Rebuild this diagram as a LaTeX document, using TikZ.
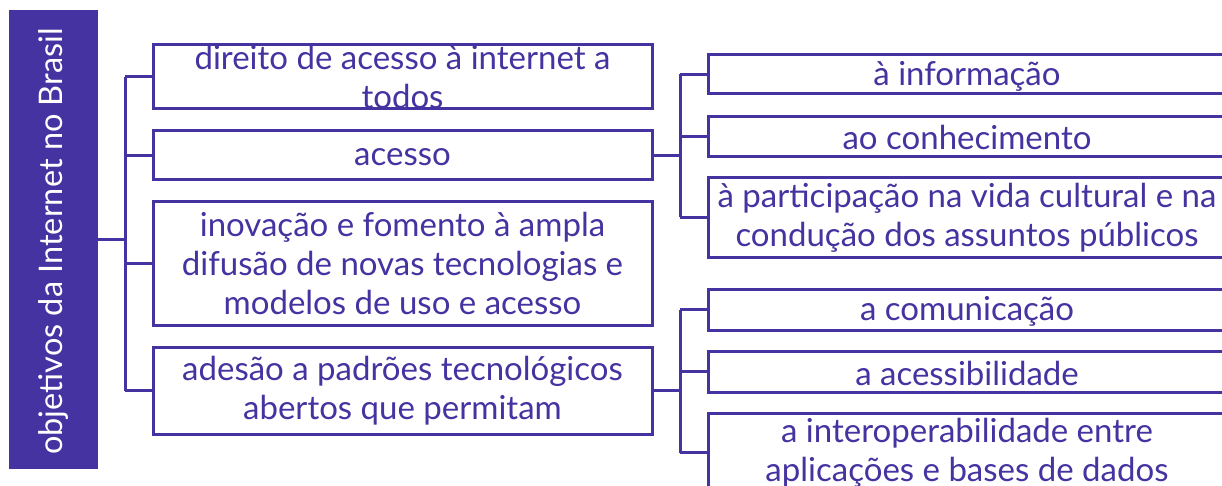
\documentclass[tikz,border=0pt]{standalone}
\usepackage{fontspec}
\setmainfont{Lato}
\definecolor{roxo}{RGB}{68,51,160}
\begin{document}
\begin{tikzpicture}[x=1pt,y=-1pt,
  box/.style={draw=roxo, line width=3pt, inner sep=0pt, outer sep=0pt, fill=white},
  mid/.style={box, minimum width=499pt},
  rgt/.style={box, minimum width=518pt},
  txt/.style={text=roxo, align=center, inner sep=0pt, font=\fontsize{33}{39}\selectfont},
  conn/.style={draw=roxo, line width=3pt}]
\useasboundingbox (0,0) rectangle (1222,486);
\clip (0,0) rectangle (1222,486);
\fill[white] (0,0) rectangle (1222,486);
% left bar
\node[fill=roxo, inner sep=0pt, minimum width=89pt, minimum height=459pt] (bar) at (53.5,239.5) {};
\node[rotate=90, text=white, inner sep=0pt, font=\fontsize{32.5}{39}\selectfont] (bartxt) at (53,241.5) {objetivos da Internet no Brasil};
% middle boxes
\node[mid, minimum height=64pt] (b1) at (402.5,77) {};
\node[mid, minimum height=49pt] (b2) at (402.5,155.5) {};
\node[mid, minimum height=123pt] (b3) at (402.5,263.5) {};
\node[mid, minimum height=87pt] (b4) at (402.5,390.5) {};
% right boxes
\node[rgt, minimum height=39pt] (r1) at (967,74.5) {};
\node[rgt, minimum height=40pt] (r2) at (967,137) {};
\node[rgt, minimum height=79pt] (r3) at (967,217.5) {};
\node[rgt, minimum height=41pt] (r4) at (967,309.5) {};
\node[rgt, minimum height=41pt] (r5) at (967,371.5) {};
\node[rgt, minimum height=79pt] (r6) at (967,452.5) {};
% texts
\node[txt] (t1) at (b1) {direito de acesso à internet a\\todos};
\node[txt, yshift=-1.5pt] (t2) at (b2) {acesso};
\node[txt] (t3) at (b3) {inovação e fomento à ampla\\difusão de novas tecnologias e\\modelos de uso e acesso};
\node[txt] (t4) at (b4) {adesão a padrões tecnológicos\\abertos que permitam};
\node[txt, yshift=-1.5pt] (u1) at (r1) {à informação};
\node[txt] (u2) at (r2) {ao conhecimento};
\node[txt] (u3) at (r3) {à participação na vida cultural e na\\condução dos assuntos públicos};
\node[txt, yshift=-1.5pt] (u4) at (r4) {a comunicação};
\node[txt, yshift=-1.5pt] (u5) at (r5) {a acessibilidade};
\node[txt] (u6) at (r6) {a interoperabilidade entre\\aplicações e bases de dados};
% connectors
\draw[conn] (bar.east) -- ++(27,0) coordinate (j1);
\draw[conn] (j1 |- b1.west) -- (j1 |- b4.west);
\foreach \b in {b1,b2,b3,b4} \draw[conn] (j1 |- \b.west) -- (\b.west);
\draw[conn] (b2.east) -- ++(28,0) coordinate (j2);
\draw[conn] (j2 |- r1.west) -- (j2 |- r3.west);
\foreach \b in {r1,r2,r3} \draw[conn] (j2 |- \b.west) -- (\b.west);
\draw[conn] (b4.east) -- ++(28,0) coordinate (j3);
\draw[conn] (j3 |- r4.west) -- (j3 |- r6.west);
\foreach \b in {r4,r5,r6} \draw[conn] (j3 |- \b.west) -- (\b.west);
\end{tikzpicture}
\end{document}
